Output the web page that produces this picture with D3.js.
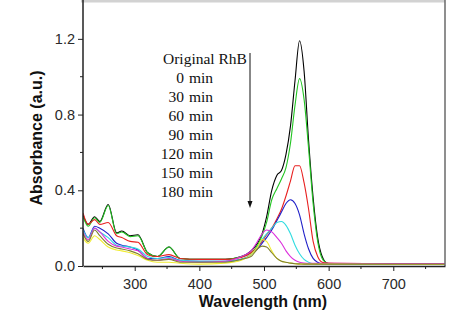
<!DOCTYPE html>
<html>
<head>
<meta charset="utf-8">
<script src="https://cdn.jsdelivr.net/npm/d3@7"></script>
<style>
  body { margin: 0; background: #fff; }
  svg { display: block; }
</style>
</head>
<body>
<svg id="chart" width="474" height="321"></svg>
<script>
const margin = { top: 1, right: 29, bottom: 55, left: 83 };
const width = 474 - margin.left - margin.right;
const height = 321 - margin.top - margin.bottom;

// shared wavelength grid (nm)
const wavelength = [220, 228, 238, 246, 259, 272, 280, 293, 305, 320, 335, 353, 370, 400, 440, 465,
  480, 490, 497, 504, 512, 520, 527, 534, 541, 548, 555, 562, 569, 576, 583, 590, 598, 610, 700, 780];

const original = [0.27, 0.22, 0.26, 0.235, 0.325, 0.175, 0.185, 0.16, 0.165, 0.07, 0.05, 0.10, 0.04, 0.035, 0.035, 0.05,
  0.08, 0.12, 0.17, 0.26, 0.40, 0.48, 0.505, 0.59, 0.74, 0.98, 1.19, 1.03, 0.66, 0.36, 0.15, 0.05, 0.015, 0.01, 0.008, 0.008];
const min0 = [0.26, 0.21, 0.255, 0.23, 0.32, 0.17, 0.18, 0.155, 0.16, 0.07, 0.05, 0.10, 0.04, 0.035, 0.035, 0.05,
  0.07, 0.11, 0.16, 0.23, 0.35, 0.41, 0.46, 0.52, 0.65, 0.85, 0.99, 0.88, 0.62, 0.33, 0.13, 0.04, 0.015, 0.01, 0.008, 0.008];
const min30 = [0.28, 0.22, 0.245, 0.22, 0.23, 0.16, 0.15, 0.13, 0.125, 0.06, 0.05, 0.06, 0.04, 0.035, 0.035, 0.045,
  0.07, 0.10, 0.13, 0.165, 0.20, 0.25, 0.30, 0.37, 0.45, 0.53, 0.53, 0.44, 0.30, 0.13, 0.05, 0.02, 0.015, 0.014, 0.012, 0.012];
const min60 = [0.20, 0.15, 0.21, 0.20, 0.17, 0.12, 0.11, 0.10, 0.085, 0.04, 0.04, 0.05, 0.03, 0.025, 0.025, 0.035,
  0.06, 0.09, 0.12, 0.15, 0.19, 0.24, 0.285, 0.33, 0.35, 0.33, 0.27, 0.17, 0.09, 0.04, 0.02, 0.012, 0.01, 0.01, 0.008, 0.008];
const min90 = [0.19, 0.15, 0.20, 0.18, 0.15, 0.11, 0.105, 0.10, 0.09, 0.05, 0.04, 0.045, 0.03, 0.025, 0.025, 0.035,
  0.06, 0.10, 0.14, 0.17, 0.20, 0.23, 0.235, 0.215, 0.17, 0.11, 0.065, 0.035, 0.02, 0.012, 0.01, 0.01, 0.01, 0.01, 0.008, 0.008];
const min120 = [0.18, 0.14, 0.20, 0.18, 0.13, 0.105, 0.10, 0.09, 0.08, 0.04, 0.03, 0.04, 0.025, 0.02, 0.025, 0.05,
  0.08, 0.13, 0.17, 0.19, 0.18, 0.15, 0.12, 0.08, 0.05, 0.03, 0.02, 0.015, 0.014, 0.014, 0.014, 0.014, 0.014, 0.014, 0.013, 0.013];
const min150 = [0.15, 0.12, 0.16, 0.14, 0.10, 0.085, 0.08, 0.07, 0.055, 0.03, 0.02, 0.02, 0.015, 0.01, 0.015, 0.03,
  0.06, 0.10, 0.14, 0.13, 0.08, 0.04, 0.025, 0.02, 0.015, 0.012, 0.01, 0.01, 0.01, 0.01, 0.01, 0.01, 0.01, 0.01, 0.008, 0.008];
const min180 = [0.17, 0.13, 0.19, 0.16, 0.115, 0.095, 0.09, 0.08, 0.065, 0.035, 0.03, 0.035, 0.02, 0.02, 0.02, 0.035,
  0.05, 0.09, 0.105, 0.10, 0.07, 0.04, 0.025, 0.02, 0.015, 0.012, 0.011, 0.01, 0.01, 0.01, 0.01, 0.01, 0.01, 0.01, 0.01, 0.01];

const seriesNames = ["Original RhB", "0", "30", "60", "90", "120", "150", "180"];
const seriesValues = [original, min0, min30, min60, min90, min120, min150, min180];
const seriesColors = ["#000000", "#22c422", "#e82020", "#2020c8", "#30dce0", "#dc30dc", "#f0ec30", "#808030"];

const xMajor = [300, 400, 500, 600, 700];
const xMinor = [250, 350, 450, 550, 650, 750];
const yMajor = [0.0, 0.4, 0.8, 1.2];
const yMinor = [0.2, 0.6, 1.0];

const svg = d3.select("#chart");

const x = d3.scaleLinear().domain([220, 780]).range([0, width]);
const y = d3.scaleLinear().domain([0, 1.4]).range([height, 0]);

const g = svg.append("g")
  .attr("transform", "translate(" + margin.left + "," + margin.top + ")");

g.append("clipPath").attr("id", "clip")
  .append("rect").attr("width", width).attr("height", height);

/*the spectra*/
const line = d3.line()
  .x(d => x(d[0]))
  .y(d => y(d[1]))
  .curve(d3.curveMonotoneX);

g.append("g").attr("clip-path", "url(#clip)")
  .selectAll("path")
  .data(seriesValues)
  .enter()
  .append("path")
  .attr("d", vals => line(vals.map((v, i) => [wavelength[i], v])))
  .attr("fill", "none")
  .attr("stroke", (d, i) => seriesColors[i])
  .attr("stroke-width", 1.1);

/*frame: light top band, grey right side*/
g.append("rect")
  .attr("x", -2).attr("y", -1).attr("width", width + 2).attr("height", 2.5)
  .attr("fill", "#d2d2d2");
g.append("line")
  .attr("x1", width).attr("x2", width).attr("y1", -1).attr("y2", height)
  .attr("stroke", "#6a6a6a").attr("stroke-width", 1.5);

/*axes*/
const tickFont = "'Liberation Sans', Arial, sans-serif";

const xAxis = g.append("g")
  .attr("transform", "translate(0," + height + ")")
  .call(d3.axisBottom(x).tickValues(xMajor).tickSize(5).tickSizeOuter(0).tickFormat(d3.format("d")));
xAxis.append("g").selectAll("line").data(xMinor).enter().append("line")
  .attr("x1", d => x(d)).attr("x2", d => x(d)).attr("y1", 0).attr("y2", 3)
  .attr("stroke", "#222");

const yAxis = g.append("g")
  .call(d3.axisLeft(y).tickValues(yMajor).tickSize(5).tickSizeOuter(0).tickFormat(d3.format(".1f")));
yAxis.append("g").selectAll("line").data(yMinor).enter().append("line")
  .attr("x1", 0).attr("x2", -3).attr("y1", d => y(d)).attr("y2", d => y(d))
  .attr("stroke", "#222");
yAxis.select(".domain").attr("d", "M0," + (-1) + "V" + height);

[xAxis, yAxis].forEach(a => {
  a.selectAll(".domain").attr("stroke", "#222").attr("stroke-width", 1.5);
  a.selectAll(".tick line").attr("stroke", "#222");
  a.selectAll("text")
    .style("font-family", tickFont)
    .style("font-size", "14.5px")
    .attr("fill", "#2a2a2a");
});
xAxis.selectAll(".tick text").attr("dy", "1.05em");
yAxis.selectAll(".tick text").attr("x", -8);

/*axis titles*/
svg.append("text")
  .text("Wavelength (nm)")
  .attr("x", 263).attr("y", 307)
  .attr("text-anchor", "middle")
  .style("font-family", tickFont)
  .style("font-weight", "bold")
  .style("font-size", "16px")
  .attr("fill", "#111");

svg.append("text")
  .text("Absorbance (a.u.)")
  .attr("transform", "translate(42,138) rotate(-90)")
  .attr("text-anchor", "middle")
  .style("font-family", tickFont)
  .style("font-weight", "bold")
  .style("font-size", "16px")
  .attr("fill", "#111");

/*legend labels with the time arrow*/
const legend = svg.append("g")
  .style("font-family", "'Liberation Serif', 'Times New Roman', serif")
  .style("font-size", "15.5px")
  .attr("fill", "#111");

legend.append("text").text(seriesNames[0]).attr("x", 163).attr("y", 63.5);
seriesNames.slice(1).forEach((name, i) => {
  const yy = 82.5 + i * 19;
  legend.append("text").text(name).attr("x", 184).attr("y", yy).attr("text-anchor", "end");
  legend.append("text").text("min").attr("x", 189).attr("y", yy);
});

svg.append("line")
  .attr("x1", 250).attr("x2", 250).attr("y1", 53).attr("y2", 202)
  .attr("stroke", "#111").attr("stroke-width", 1);
svg.append("path")
  .attr("d", "M247.5,201 L252.5,201 L250,208 Z")
  .attr("fill", "#111");
</script>
</body>
</html>
